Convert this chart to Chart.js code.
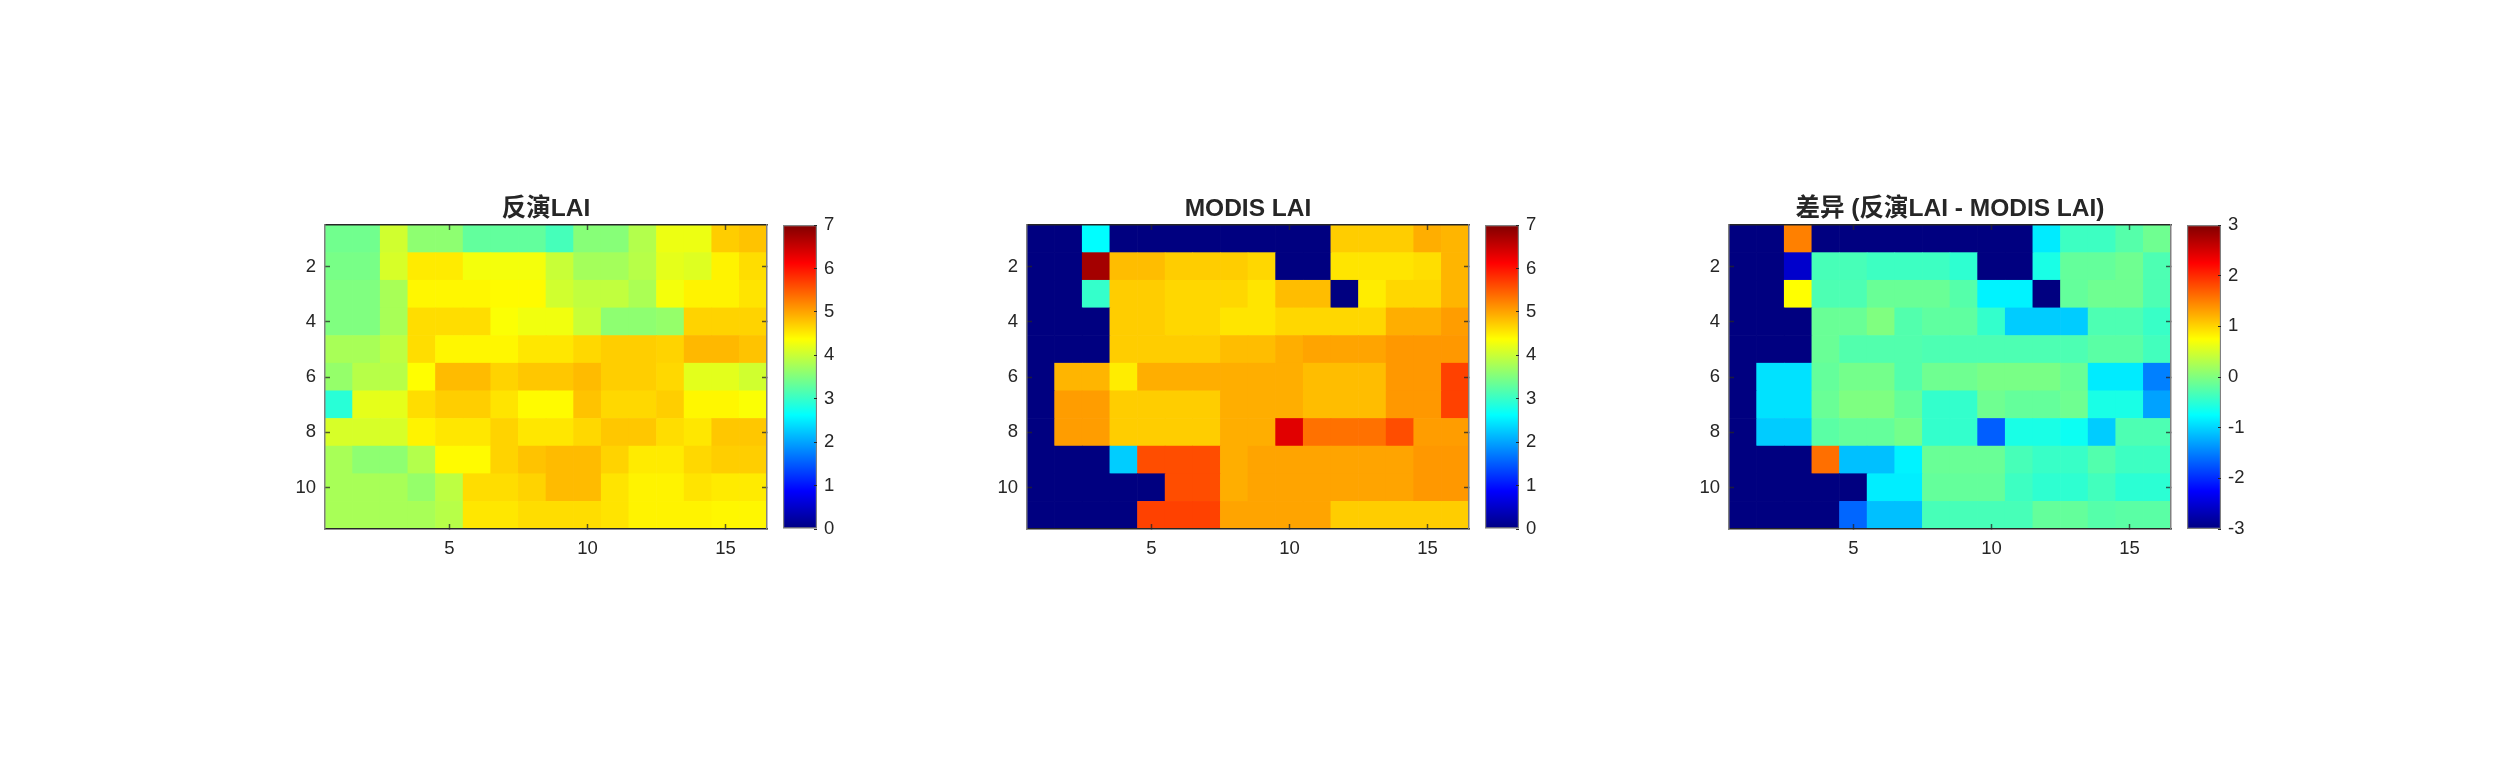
<!DOCTYPE html>
<html>
<head>
<meta charset="utf-8">
<title>LAI</title>
<script src="https://cdn.jsdelivr.net/npm/chart.js@4"></script>
<style>
    html, body { margin: 0; padding: 0; background: #fff; }
    body { width: 2500px; height: 782px; position: relative; overflow: hidden; }
    canvas { position: absolute; }
</style>
</head>
<body>
<script>
// values, row by row (row 1 on top)
const laiInv = [
    [3.4,3.4,4.05,3.6,3.6,3.3,3.3,3.3,3.1,3.55,3.55,3.85,4.25,4.25,4.72,4.79],
    [3.45,3.45,4.1,4.51,4.51,4.3,4.3,4.3,4.0,3.75,3.75,3.88,4.2,4.15,4.46,4.61],
    [3.5,3.5,3.78,4.43,4.43,4.43,4.4,4.4,4.05,3.95,3.95,3.8,4.3,4.46,4.46,4.56],
    [3.5,3.5,3.78,4.61,4.61,4.61,4.35,4.28,4.28,4.0,3.6,3.6,3.65,4.68,4.68,4.68],
    [3.78,3.78,3.92,4.61,4.43,4.43,4.43,4.54,4.54,4.64,4.71,4.71,4.68,4.86,4.86,4.79],
    [3.65,3.88,3.88,4.38,4.84,4.84,4.68,4.76,4.76,4.84,4.71,4.71,4.64,4.18,4.18,4.05],
    [2.9,4.2,4.2,4.61,4.71,4.71,4.56,4.4,4.4,4.79,4.64,4.64,4.71,4.43,4.43,4.35],
    [4.1,4.1,4.1,4.46,4.54,4.54,4.68,4.54,4.54,4.64,4.76,4.76,4.61,4.54,4.76,4.76],
    [3.78,3.6,3.6,3.85,4.4,4.4,4.68,4.79,4.84,4.84,4.68,4.51,4.51,4.64,4.71,4.71],
    [3.78,3.78,3.78,3.65,3.92,4.61,4.61,4.68,4.84,4.84,4.56,4.46,4.46,4.56,4.51,4.51],
    [3.78,3.78,3.78,3.78,3.88,4.54,4.54,4.61,4.61,4.61,4.56,4.46,4.46,4.46,4.43,4.43]
];
const laiModis = [
    [0,0,2.62,0,0,0,0,0,0,0,0,4.72,4.72,4.72,4.93,4.88],
    [0,0,6.75,4.83,4.83,4.72,4.72,4.72,4.65,0,0,4.55,4.55,4.55,4.6,4.88],
    [0,0,2.98,4.72,4.72,4.65,4.65,4.65,4.55,4.83,4.83,0,4.5,4.65,4.65,4.88],
    [0,0,0,4.72,4.72,4.65,4.65,4.55,4.55,4.65,4.65,4.65,4.65,4.93,4.93,5.05],
    [0,0,0,4.72,4.72,4.72,4.72,4.83,4.83,4.93,5.0,5.0,5.0,5.08,5.08,5.08],
    [0,4.88,4.88,4.5,4.93,4.93,4.93,4.93,4.93,4.93,4.83,4.83,4.83,5.08,5.08,5.68],
    [0,5.05,5.05,4.72,4.72,4.72,4.72,4.93,4.93,4.93,4.83,4.83,4.83,5.08,5.08,5.68],
    [0,5.05,5.05,4.72,4.72,4.72,4.72,4.93,4.93,6.33,5.35,5.35,5.35,5.6,5.05,5.05],
    [0,0,0,2.28,5.6,5.6,5.6,4.93,5.0,5.0,5.0,5.0,5.0,5.0,5.08,5.08],
    [0,0,0,0,0,5.6,5.6,4.93,5.0,5.0,5.0,5.0,5.0,5.0,5.08,5.08],
    [0,0,0,0,5.68,5.68,5.68,5.0,5.0,5.0,5.0,4.72,4.72,4.72,4.72,4.72]
];
const laiDiff = [
    [-3,-3,1.5,-3,-3,-3,-3,-3,-3,-3,-3,-0.87,-0.39,-0.39,-0.25,-0.1],
    [-3,-3,-2.55,-0.33,-0.33,-0.39,-0.39,-0.39,-0.48,-3,-3,-0.6,-0.16,-0.16,-0.1,-0.3],
    [-3,-3,0.75,-0.3,-0.3,-0.13,-0.13,-0.13,-0.25,-0.82,-0.82,-3,-0.16,-0.1,-0.1,-0.3],
    [-3,-3,-3,-0.13,-0.13,0,-0.27,-0.19,-0.19,-0.45,-1.05,-1.05,-1.05,-0.3,-0.3,-0.42],
    [-3,-3,-3,-0.13,-0.27,-0.27,-0.27,-0.3,-0.3,-0.3,-0.3,-0.3,-0.3,-0.22,-0.22,-0.36],
    [-3,-0.92,-0.92,-0.16,-0.07,-0.07,-0.27,-0.1,-0.1,-0.04,-0.04,-0.04,-0.13,-0.87,-0.87,-1.5],
    [-3,-0.92,-0.92,-0.13,-0.01,-0.01,-0.16,-0.45,-0.45,-0.1,-0.16,-0.16,-0.1,-0.6,-0.6,-1.3],
    [-3,-1.05,-1.05,-0.22,-0.16,-0.16,-0.07,-0.45,-0.45,-1.7,-0.6,-0.6,-0.68,-1.05,-0.3,-0.3],
    [-3,-3,-3,1.6,-1.12,-1.12,-0.82,-0.13,-0.13,-0.13,-0.33,-0.42,-0.42,-0.27,-0.39,-0.39],
    [-3,-3,-3,-3,-3,-0.85,-0.85,-0.16,-0.16,-0.16,-0.39,-0.48,-0.48,-0.36,-0.5,-0.5],
    [-3,-3,-3,-3,-1.65,-1.12,-1.12,-0.33,-0.33,-0.33,-0.33,-0.16,-0.16,-0.25,-0.22,-0.22]
];
const xTicks = [5, 10, 15];
const yTicks = [2, 4, 6, 8, 10];
const laiBarTicks = [0, 1, 2, 3, 4, 5, 6, 7];
const diffBarTicks = [-3, -2, -1, 0, 1, 2, 3];

const TEXT = '#262626';
const EDGE = '#808080';
const JET = [[0, 0, 0, 128], [0.125, 0, 0, 255], [0.375, 0, 255, 255], [0.625, 255, 255, 0], [0.875, 255, 0, 0], [1, 128, 0, 0]];

Chart.defaults.font.family = '"Liberation Sans", "Noto Sans CJK SC", sans-serif';
Chart.defaults.font.size = 18.5;
Chart.defaults.color = TEXT;

function jet(v, min, max) {
    const t = Math.min(1, Math.max(0, (v - min) / (max - min)));
    for (let i = 1; i < JET.length; i++) {
        if (t <= JET[i][0]) {
            const a = JET[i - 1], b = JET[i];
            const f = (t - a[0]) / (b[0] - a[0]);
            const c = [1, 2, 3].map(k => Math.round(a[k] + (b[k] - a[k]) * f));
            return `rgb(${c[0]},${c[1]},${c[2]})`;
        }
    }
    return 'rgb(128,0,0)';
}

function addCanvas(left, top, width, height) {
    const c = document.createElement('canvas');
    c.width = width;
    c.height = height;
    c.style.left = left + 'px';
    c.style.top = top + 'px';
    c.style.width = width + 'px';
    c.style.height = height + 'px';
    document.body.appendChild(c);
    return c;
}

// axis with inward ticks, only the labels on the left and bottom ones
function axis(position, min, max, tickVals, showLabels, size, borderColor, padding) {
    return {
        type: 'linear',
        position: position,
        min: min,
        max: max,
        offset: false,
        reverse: position == 'left' || position == 'right',
        afterBuildTicks: s => { s.ticks = tickVals.map(v => ({ value: v })); },
        afterFit: s => {
            if (position == 'left' || position == 'right') s.width = size;
            else s.height = size;
        },
        grid: { offset: false, drawOnChartArea: false, tickLength: -5, tickWidth: 1.5, tickColor: 'rgba(38,38,38,0.75)', z: 1 },
        border: { color: borderColor, width: 1.5, z: 1 },
        ticks: { display: showLabels, autoSkip: false, maxRotation: 0, padding: padding, callback: v => String(v) }
    };
}

function heatmap(plotLeft, titleText, rows, min, max) {
    const cells = [];
    rows.forEach((row, r) => row.forEach((v, c) => {
        cells.push({ x: [c + 0.5, c + 1.5], y: r + 1, v: v });
    }));
    new Chart(addCanvas(plotLeft - 60, 180, 505, 389), {
        type: 'bar',
        data: {
            datasets: [{
                data: cells,
                backgroundColor: ctx => jet(ctx.raw.v, min, max),
                borderWidth: 0,
                barPercentage: 1,
                categoryPercentage: 1
            }]
        },
        options: {
            indexAxis: 'y',
            responsive: false,
            animation: false,
            events: [],
            layout: { padding: { right: 3 } },
            plugins: {
                legend: { display: false },
                tooltip: { enabled: false },
                title: {
                    display: true,
                    text: titleText,
                    color: TEXT,
                    fullSize: false,
                    font: { size: 24.5, weight: 'bold', lineHeight: 1.2 },
                    padding: { top: 15, bottom: 0.6 }
                }
            },
            scales: {
                x: axis('bottom', 0.5, 16.5, xTicks, true, 40, TEXT, 14),
                xTop: axis('top', 0.5, 16.5, xTicks, false, 0, TEXT, 0),
                y: axis('left', 0.5, 11.5, yTicks, true, 60, EDGE, 14),
                yRight: axis('right', 0.5, 11.5, yTicks, false, 0, EDGE, 0)
            }
        }
    });
}

function colorbar(left, min, max, tickVals) {
    new Chart(addCanvas(left, 180, 74, 389), {
        type: 'bar',
        data: {
            labels: [''],
            datasets: [{
                data: [[min, max]],
                backgroundColor: ctx => {
                    const area = ctx.chart.chartArea;
                    if (!area) return EDGE;
                    const g = ctx.chart.ctx.createLinearGradient(0, area.bottom, 0, area.top);
                    JET.forEach(s => g.addColorStop(s[0], `rgb(${s[1]},${s[2]},${s[3]})`));
                    return g;
                },
                borderColor: EDGE,
                borderWidth: 1.5,
                borderSkipped: false,
                barPercentage: 1,
                categoryPercentage: 1
            }]
        },
        options: {
            responsive: false,
            animation: false,
            events: [],
            layout: { padding: { top: 45, bottom: 40 } },
            plugins: { legend: { display: false }, tooltip: { enabled: false } },
            scales: {
                x: { display: false },
                y: {
                    position: 'right',
                    min: min,
                    max: max,
                    afterBuildTicks: s => { s.ticks = tickVals.map(v => ({ value: v })); },
                    afterFit: s => { s.width = 40; },
                    grid: { drawOnChartArea: false, tickLength: -3, tickWidth: 1, tickColor: TEXT, z: 1 },
                    border: { display: false },
                    ticks: { autoSkip: false, padding: 10, callback: v => String(v) }
                }
            }
        }
    });
}

heatmap(325, '反演LAI', laiInv, 0, 7);
colorbar(783, 0, 7, laiBarTicks);
heatmap(1027, 'MODIS LAI', laiModis, 0, 7);
colorbar(1485, 0, 7, laiBarTicks);
heatmap(1729, '差异 (反演LAI - MODIS LAI)', laiDiff, -3, 3);
colorbar(2187, -3, 3, diffBarTicks);
</script>
</body>
</html>
